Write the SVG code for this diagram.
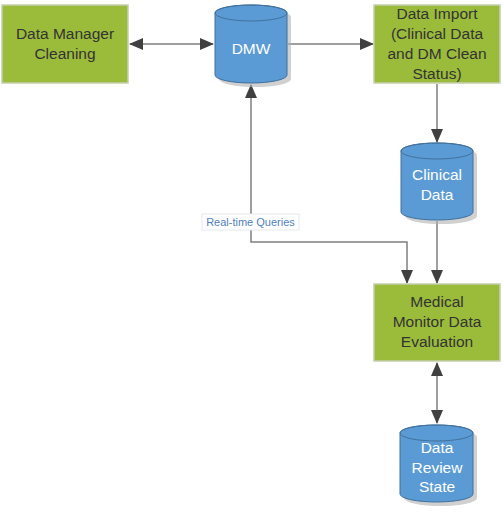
<svg xmlns="http://www.w3.org/2000/svg" width="503" height="516" viewBox="0 0 503 516">
<defs>
<style>
.box{fill:#9bbb3b;stroke:#c4cfae;stroke-width:1.5}
.cyl{fill:#5b9bd5;stroke:#41719c;stroke-width:1}
.sh{fill:#b0b0b0;opacity:0.6}
.bt{font-family:"Liberation Sans",Arial,sans-serif;font-size:15.5px;fill:#333333;text-anchor:middle}
.ct{font-family:"Liberation Sans",Arial,sans-serif;font-size:15.5px;fill:#ffffff;text-anchor:middle}
.ln{fill:none;stroke:#7f7f7f;stroke-width:1.5}
.lbl{font-family:"Liberation Sans",Arial,sans-serif;font-size:11px;fill:#4f81bd;text-anchor:middle}
</style>
<marker id="ah" markerUnits="userSpaceOnUse" markerWidth="14" markerHeight="12" viewBox="0 0 14 12" refX="13" refY="6" orient="auto-start-reverse">
<path d="M0,0 L14,6 L0,12 Z" fill="#404040"/>
</marker>
</defs>
<g id="connectors">
<path class="ln" d="M130,44 L213,44" marker-start="url(#ah)" marker-end="url(#ah)"/>
<path class="ln" d="M288,44 L373,44" marker-end="url(#ah)"/>
<path class="ln" d="M437,84 L437,142" marker-end="url(#ah)"/>
<path class="ln" d="M437,221 L437,283" marker-end="url(#ah)"/>
<path class="ln" d="M407,283 L407,242 L251,242 L251,85" marker-start="url(#ah)" marker-end="url(#ah)"/>
<path class="ln" d="M437,363 L437,423" marker-start="url(#ah)" marker-end="url(#ah)"/>
<rect x="202" y="214" width="97" height="16" fill="#ffffff" stroke="#e4e8ee" stroke-width="1"/>
<text class="lbl" x="250.5" y="226">Real-time Queries</text>
</g>
<g id="data-manager-cleaning">
<rect class="box" x="2" y="5" width="126" height="78"/>
<text class="bt" x="65" y="39">Data Manager</text>
<text class="bt" x="65" y="59">Cleaning</text>
</g>
<g id="dmw">
<path class="sh" d="M219,17 A36,8 0 0 1 291,17 L291,79 A36,8 0 0 1 219,79 Z"/>
<path class="cyl" d="M215,13 A36,8 0 0 1 287,13 L287,75 A36,8 0 0 1 215,75 Z"/>
<ellipse cx="251" cy="13" rx="36" ry="8" fill="none" stroke="#41719c" stroke-width="1"/>
<text class="ct" x="251" y="54">DMW</text>
</g>
<g id="data-import">
<rect class="box" x="374" y="5" width="126" height="78"/>
<text class="bt" x="437" y="19">Data Import</text>
<text class="bt" x="437" y="39">(Clinical Data</text>
<text class="bt" x="437" y="59">and DM Clean</text>
<text class="bt" x="437" y="79">Status)</text>
</g>
<g id="clinical-data">
<path class="sh" d="M405,155 A36,8 0 0 1 477,155 L477,216 A36,8 0 0 1 405,216 Z"/>
<path class="cyl" d="M401,151 A36,8 0 0 1 473,151 L473,212 A36,8 0 0 1 401,212 Z"/>
<ellipse cx="437" cy="151" rx="36" ry="8" fill="none" stroke="#41719c" stroke-width="1"/>
<text class="ct" x="437" y="180">Clinical</text>
<text class="ct" x="437" y="200">Data</text>
</g>
<g id="medical-monitor">
<rect class="box" x="374" y="284" width="126" height="77"/>
<text class="bt" x="437" y="307">Medical</text>
<text class="bt" x="437" y="327">Monitor Data</text>
<text class="bt" x="437" y="347">Evaluation</text>
</g>
<g id="data-review-state">
<path class="sh" d="M404,437 A36,8 0 0 1 477,437 L477,498 A36,8 0 0 1 404,498 Z"/>
<path class="cyl" d="M400,433 A36.5,8 0 0 1 473,433 L473,494 A36.5,8 0 0 1 400,494 Z"/>
<ellipse cx="436.5" cy="433" rx="36.5" ry="8" fill="none" stroke="#41719c" stroke-width="1"/>
<text class="ct" x="437" y="453">Data</text>
<text class="ct" x="437" y="473">Review</text>
<text class="ct" x="437" y="492">State</text>
</g>
</svg>
